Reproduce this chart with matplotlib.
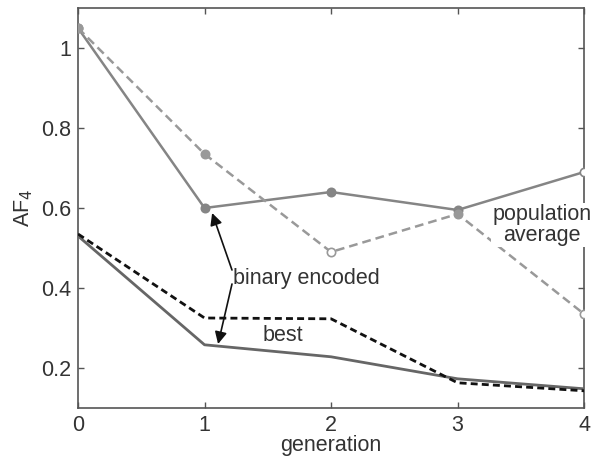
import matplotlib
matplotlib.use("Agg")
import matplotlib.pyplot as plt

plt.rcParams['font.family'] = ['Liberation Sans', 'DejaVu Sans']

generation = [0, 1, 2, 3, 4]
bin_pop = [1.05, 0.60, 0.64, 0.595, 0.69]
real_pop = [1.05, 0.735, 0.49, 0.585, 0.335]
bin_best = [0.530, 0.258, 0.228, 0.173, 0.148]
real_best = [0.535, 0.325, 0.323, 0.163, 0.143]
bin_pop_filled = [True, True, True, True, False]
real_pop_filled = [True, True, False, True, False]

xticks = [0, 1, 2, 3, 4]
yticks = [0.2, 0.4, 0.6, 0.8, 1.0]
yticklabels = ['0.2', '0.4', '0.6', '0.8', '1']

FS = 15.5
gray = '#858585'
fig = plt.figure(figsize=(5.96, 4.63), dpi=100)
ax = fig.add_axes([0.1309, 0.1188, 0.8491, 0.8639])

ax.plot(generation, bin_pop, color=gray, lw=1.8, zorder=3)
ax.plot(generation, real_pop, color='#999999', lw=1.8, ls=(0, (3.5, 2)), zorder=3)
for xv, yv, f in zip(generation, bin_pop, bin_pop_filled):
    ax.plot([xv], [yv], 'o', ms=6, mec=gray, mfc=gray if f else 'white', mew=1.2, zorder=4)
for xv, yv, f in zip(generation, real_pop, real_pop_filled):
    ax.plot([xv], [yv], 'o', ms=6, mec='#999999', mfc='#999999' if f else 'white', mew=1.2, zorder=4)
ax.plot(generation, bin_best, color='#666666', lw=2.0, zorder=3)
ax.plot(generation, real_best, color='#111111', lw=2.0, ls=(0, (2.5, 1.5)), zorder=3)

ax.set_xlim(0, 4)
ax.set_ylim(0.1, 1.1)
ax.set_xticks(xticks)
ax.set_yticks(yticks)
ax.set_yticklabels(yticklabels)
ax.tick_params(direction='in', length=4, width=1, colors='#555555', labelcolor='#333333',
               labelsize=FS, top=True, right=True, pad=5)
for s in ax.spines.values():
    s.set_color('#555555')
    s.set_linewidth(1.2)

ax.set_xlabel('generation', fontsize=FS, color='#333333', labelpad=-1)
ax.set_ylabel('AF$_4$', fontsize=FS, color='#333333', labelpad=4)

ax.text(1.225, 0.425, 'binary encoded', fontsize=FS, color='#333333', ha='left', va='center', zorder=5)
ax.text(1.62, 0.28, 'best', fontsize=FS, color='#333333', ha='center', va='center', zorder=5)
ax.text(3.67, 0.557, 'population\naverage', fontsize=FS, color='#333333', ha='center', va='center',
        linespacing=1.0, zorder=6, clip_on=False,
        bbox=dict(facecolor='white', edgecolor='none', pad=1))

ax.annotate('', xy=(1.06, 0.5875), xytext=(1.217, 0.445),
            arrowprops=dict(arrowstyle='-|>', color='#111111', lw=1.2, mutation_scale=18, shrinkA=0, shrinkB=0), zorder=5)
ax.annotate('', xy=(1.107, 0.26), xytext=(1.217, 0.41),
            arrowprops=dict(arrowstyle='-|>', color='#111111', lw=1.2, mutation_scale=18, shrinkA=0, shrinkB=0), zorder=5)

fig.savefig('out.png', dpi=100, facecolor='white')
